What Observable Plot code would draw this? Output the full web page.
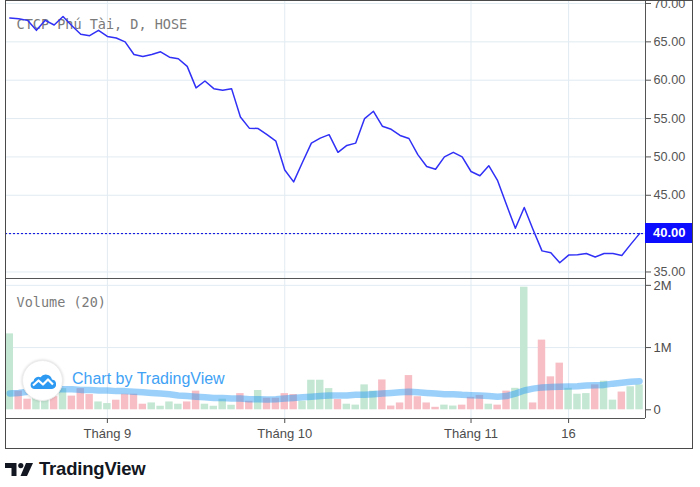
<!DOCTYPE html>
<html>
<head>
<meta charset="utf-8">
<script src="https://cdn.jsdelivr.net/npm/d3@7"></script>
<script src="https://cdn.jsdelivr.net/npm/@observablehq/plot@0.6"></script>
<style>
  html, body { margin: 0; padding: 0; background: #fff; width: 700px; height: 487px; overflow: hidden; }
  #root { position: relative; width: 700px; height: 487px; }
  .abs { position: absolute; }
  svg { max-width: none !important; }
</style>
</head>
<body>
<div id="root"></div>
<script>
// ---------- data ----------
const closes = [68.1, 68.0, 67.8, 66.5, 67.8, 67.2, 68.3, 67.1, 66.0, 65.8,
  66.5, 65.7, 65.5, 65.0, 63.35, 63.1, 63.35, 63.7, 63.0, 62.8,
  61.8, 59.0, 59.9, 58.9, 58.7, 58.9, 55.2, 53.75, 53.7, 52.9,
  52.05, 48.3, 46.75, 49.3, 51.8, 52.45, 52.9, 50.6, 51.5, 51.8,
  55.0, 55.95, 54.0, 53.6, 52.8, 52.4, 50.3, 48.75, 48.4, 50.0,
  50.6, 50.0, 48.1, 47.55, 48.85, 46.9, 43.75, 40.7, 43.4, 40.5,
  37.75, 37.5, 36.2, 37.2, 37.25, 37.4, 36.95, 37.4, 37.4, 37.15,
  38.6, 40.0];
// volume in millions of shares
const volumes = [1.22, 0.30, 0.17, 0.20, 0.20, 0.21, 0.34, 0.22, 0.34, 0.245,
  0.126, 0.10, 0.154, 0.25, 0.25, 0.09, 0.11, 0.057, 0.126, 0.09,
  0.126, 0.30, 0.09, 0.057, 0.17, 0.073, 0.26, 0.137, 0.31, 0.185,
  0.185, 0.26, 0.245, 0.137, 0.475, 0.475, 0.34, 0.165, 0.09, 0.075,
  0.40, 0.30, 0.48, 0.06, 0.11, 0.55, 0.21, 0.11, 0.04, 0.075,
  0.06, 0.075, 0.20, 0.23, 0.09, 0.075, 0.30, 0.345, 1.97, 0.11,
  1.12, 0.53, 0.75, 0.345, 0.25, 0.26, 0.40, 0.46, 0.155, 0.285,
  0.37, 0.40];
// bar direction: u = up (green), d = down (red)
const directions = ["u","d","d","u","u","d","u","d","d","d",
  "u","u","d","d","d","d","u","u","u","u",
  "d","d","u","u","u","u","d","d","u","d",
  "d","d","d","u","u","u","u","d","u","u",
  "u","u","d","d","d","d","d","d","d","u",
  "u","d","d","d","u","d","d","u","u","d",
  "d","d","d","u","u","u","d","u","u","d",
  "u","u"];
// 20-period volume moving average (millions)
const volumeMA = [0.26, 0.27, 0.29, 0.30, 0.32, 0.33, 0.33, 0.33, 0.32, 0.32,
  0.31, 0.31, 0.30, 0.30, 0.29, 0.28, 0.27, 0.26, 0.25, 0.23,
  0.22, 0.21, 0.20, 0.19, 0.19, 0.18, 0.18, 0.17, 0.17, 0.165,
  0.17, 0.18, 0.19, 0.20, 0.21, 0.22, 0.23, 0.23, 0.23, 0.24,
  0.24, 0.25, 0.26, 0.27, 0.28, 0.29, 0.28, 0.27, 0.26, 0.25,
  0.25, 0.24, 0.235, 0.23, 0.22, 0.21, 0.22, 0.26, 0.31, 0.34,
  0.36, 0.365, 0.37, 0.375, 0.38, 0.39, 0.395, 0.40, 0.42, 0.435,
  0.45, 0.46];
// x-axis ticks (bar index of the labelled session)
const tickIndex = [11, 31, 52, 63];
const tickLabels = ["Tháng 9", "Tháng 10", "Tháng 11", "16"];
const priceTicks = [35, 40, 45, 50, 55, 60, 65, 70];
const volumeTicks = [0, 1, 2];
const volumeTickLabels = ["0", "1M", "2M"];
const lastPrice = 40.00;
const title = "CTCP Phú Tài, D, HOSE";
const volumeTitle = "Volume (20)";

// ---------- table ----------
const rows = closes.map((c, i) => ({i, close: c, vol: volumes[i], dir: directions[i], ma: volumeMA[i]}));

// ---------- styling ----------
const grid = "#e1ebf2";
const axisCol = "#555";
const green = "#c3e7d3";
const red = "#f7bfc5";
const xDomain = [-0.485, 71.67];
const priceDomain = [34.15, 70.39];
const volDomain = [-0.14, 2.11];
const W = 700;
const baseStyle = {fontFamily: "'Liberation Sans', Arial, sans-serif", fontSize: "12.7px", color: axisCol, background: "transparent", overflow: "hidden"};

const root = document.getElementById("root");

// ---------- price panel ----------
const priceChart = Plot.plot({
  width: W, height: 279,
  marginLeft: 5, marginRight: 55, marginTop: 0, marginBottom: 1,
  style: baseStyle,
  x: {domain: xDomain, axis: null},
  y: {domain: priceDomain, axis: "right", ticks: priceTicks.filter(t => t !== lastPrice), tickFormat: d => d.toFixed(2), tickSize: 5, tickPadding: 3, label: null},
  marks: [
    Plot.ruleY(priceTicks, {stroke: grid}),
    Plot.ruleX(tickIndex, {stroke: grid}),
    Plot.text([title], {frameAnchor: "top-left", dx: 11, dy: 18.5, fontFamily: "'DejaVu Sans Mono', monospace", fontSize: 13.5, fill: "#7a7a7a"}),
    Plot.ruleY([lastPrice], {stroke: "#0000dd", strokeDasharray: "2,2"}),
    Plot.line(rows, {x: "i", y: "close", stroke: "#3030f6", strokeWidth: 1.5}),
    Plot.ruleX([xDomain[1]], {stroke: axisCol}),
    Plot.ruleY([priceDomain[0]], {stroke: axisCol})
  ]
});
priceChart.style.position = "absolute";
priceChart.style.left = "0px";
priceChart.style.top = "0px";
root.appendChild(priceChart);

// last price label
const yS = priceChart.scale("y");
const xS = priceChart.scale("x");
const lp = document.createElement("div");
lp.className = "abs";
const lpY = yS.apply(lastPrice);
const lpX = xS.apply(xDomain[1]);
Object.assign(lp.style, {left: lpX + "px", top: (lpY - 10) + "px", width: (692 - lpX) + "px", height: "20px",
  background: "#0c0cff", color: "#fff", font: "bold 13px 'Liberation Sans', Arial, sans-serif",
  lineHeight: "20px", paddingLeft: "8px", boxSizing: "border-box"});
lp.textContent = lastPrice.toFixed(2);
root.appendChild(lp);

// ---------- volume panel ----------
const volChart = Plot.plot({
  width: W, height: 170,
  marginLeft: 5, marginRight: 55, marginTop: 0, marginBottom: 30,
  style: Object.assign({}, baseStyle, {color: "#4d4d4d", fontSize: "13px"}),
  x: {domain: xDomain, ticks: tickIndex, tickFormat: d => tickLabels[tickIndex.indexOf(d)], tickSize: 5, tickPadding: 5, label: null},
  y: {domain: volDomain, axis: "right", ticks: volumeTicks, tickFormat: d => volumeTickLabels[volumeTicks.indexOf(d)], tickSize: 5, tickPadding: 3, label: null},
  marks: [
    Plot.ruleY([1, 2], {stroke: grid}),
    Plot.ruleX(tickIndex, {stroke: grid}),
    Plot.rectY(rows.filter(d => d.dir === "u"), {x1: d => d.i - 0.42, x2: d => d.i + 0.42, y1: 0, y2: "vol", fill: green}),
    Plot.rectY(rows.filter(d => d.dir === "d"), {x1: d => d.i - 0.42, x2: d => d.i + 0.42, y1: 0, y2: "vol", fill: red}),
    Plot.line(rows, {x: "i", y: "ma", stroke: "#2196f3", strokeOpacity: 0.45, strokeWidth: 6.5}),
    Plot.text([volumeTitle], {frameAnchor: "top-left", dx: 11, dy: 18.5, fontFamily: "'DejaVu Sans Mono', monospace", fontSize: 13.5, fill: "#7a7a7a"}),
    Plot.ruleX([xDomain[1]], {stroke: axisCol}),
    Plot.ruleY([volDomain[0]], {stroke: axisCol}),
    Plot.ruleY([volDomain[1]], {stroke: axisCol})
  ]
});
volChart.style.position = "absolute";
volChart.style.left = "0px";
volChart.style.top = "278px";
root.appendChild(volChart);

// ---------- watermark ----------
const wm = document.createElement("div");
wm.className = "abs";
Object.assign(wm.style, {left: "22px", top: "360px", width: "41px", height: "41px", borderRadius: "50%",
  background: "#fff", boxShadow: "0 0 3px rgba(0,0,0,0.18)", border: "1px solid #ececec", boxSizing: "border-box"});
wm.innerHTML = '<svg width="26" height="16" viewBox="0 0 26 16" style="position:absolute;left:6.5px;top:12px">' +
  '<path d="M4 16 A4 4 0 0 1 3.5 8.2 A5 5 0 0 1 10.5 4.2 A6.5 6.5 0 0 1 22 6.5 A4.8 4.8 0 0 1 22 16 Z" fill="#2e9af2"/>' +
  '<polyline points="3,12.5 8.5,7.5 13,11.5 18,6.5 23,11.5" fill="none" stroke="#fff" stroke-width="2.2" stroke-linejoin="round"/></svg>';
root.appendChild(wm);
const wmText = document.createElement("div");
wmText.className = "abs";
Object.assign(wmText.style, {left: "72px", top: "370px", font: "16px 'Liberation Sans', Arial, sans-serif", color: "#3fa2f5", whiteSpace: "nowrap"});
wmText.textContent = "Chart by TradingView";
root.appendChild(wmText);

// ---------- outer frame ----------
const frame = document.createElement("div");
frame.className = "abs";
Object.assign(frame.style, {left: "5px", top: "0px", width: "688px", height: "449px", border: "1px solid #4a4a4a", boxSizing: "border-box", pointerEvents: "none"});
root.appendChild(frame);

// ---------- bottom logo ----------
const logo = document.createElement("div");
logo.className = "abs";
Object.assign(logo.style, {left: "5px", top: "458px", height: "22px", display: "flex", alignItems: "center", gap: "6px"});
logo.innerHTML = '<svg width="28" height="13" viewBox="0 0 28 13">' +
  '<path d="M0 0H11.5V13H6.5V5H0Z" fill="#131722"/>' +
  '<circle cx="15.8" cy="2.6" r="2.6" fill="#131722"/>' +
  '<path d="M21 0H28L22 13H15.5Z" fill="#131722"/></svg>' +
  '<span style="font:bold 18.5px \'Liberation Sans\', Arial, sans-serif;color:#131722;letter-spacing:-0.2px">TradingView</span>';
root.appendChild(logo);
</script>
</body>
</html>
